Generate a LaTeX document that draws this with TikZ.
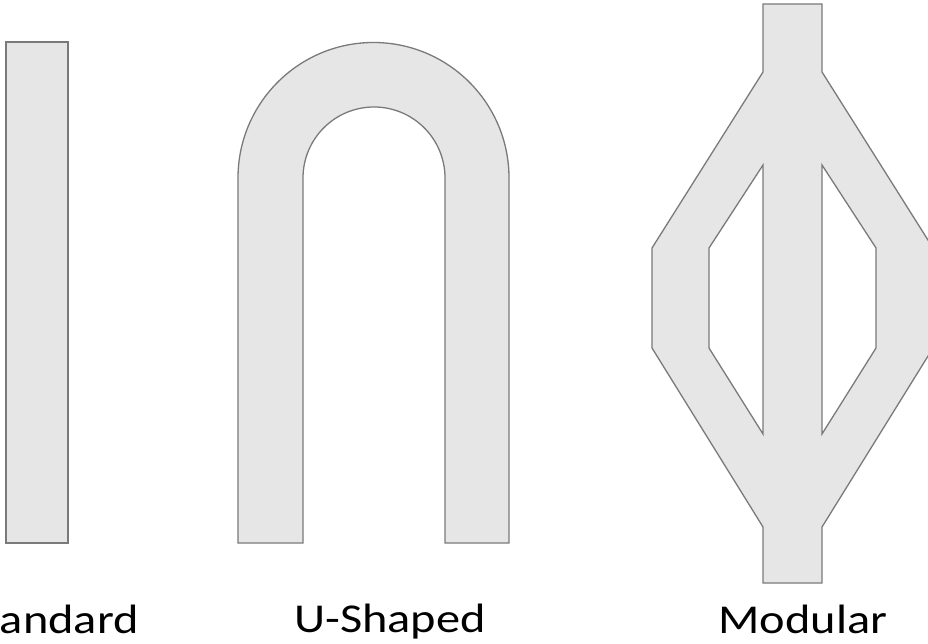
\documentclass[tikz,border=0pt]{standalone}
\usepackage{fontspec}
\newfontfamily\labfont[FakeStretch=1.18]{Carlito}
\definecolor{shapefill}{HTML}{E6E6E6}
\definecolor{shapeline}{HTML}{7A7A7A}
\begin{document}
\begin{tikzpicture}[x=1pt,y=-1pt,
  channel/.style={fill=shapefill,draw=shapeline,line width=1.3pt,line join=miter},
  lab/.style={font=\labfont\fontsize{41}{45}\selectfont,inner sep=0pt}]
\useasboundingbox (0,0) rectangle (928,644);
\clip (0,0) rectangle (928,644);
% Standard
\draw[channel] (6,42) rectangle (68,543);
% U-shaped
\draw[channel] (238,543) -- (238,178) arc[start angle=180,end angle=360,radius=135.5]
  -- (509,543) -- (445,543) -- (445,178) arc[start angle=0,end angle=-180,radius=71]
  -- (303,543) -- cycle;
% Modular
\draw[channel,even odd rule]
  (763,4) -- (822,4) -- (822,72) -- (933,248) -- (933,348) -- (822,527)
  -- (822,583) -- (763,583) -- (763,527) -- (652,348) -- (652,248) -- (763,72) -- cycle
  (763,165) -- (709,248) -- (709,348) -- (763,434) -- cycle
  (822,165) -- (876,248) -- (876,348) -- (822,434) -- cycle;
% labels
\node[lab,anchor=base east] (std) at (139,633) {Standard};
\node[lab,anchor=base] (ush) at (390,632) {U-Shaped};
\node[lab,anchor=base] (mod) at (803,633) {Modular};
\end{tikzpicture}
\end{document}
